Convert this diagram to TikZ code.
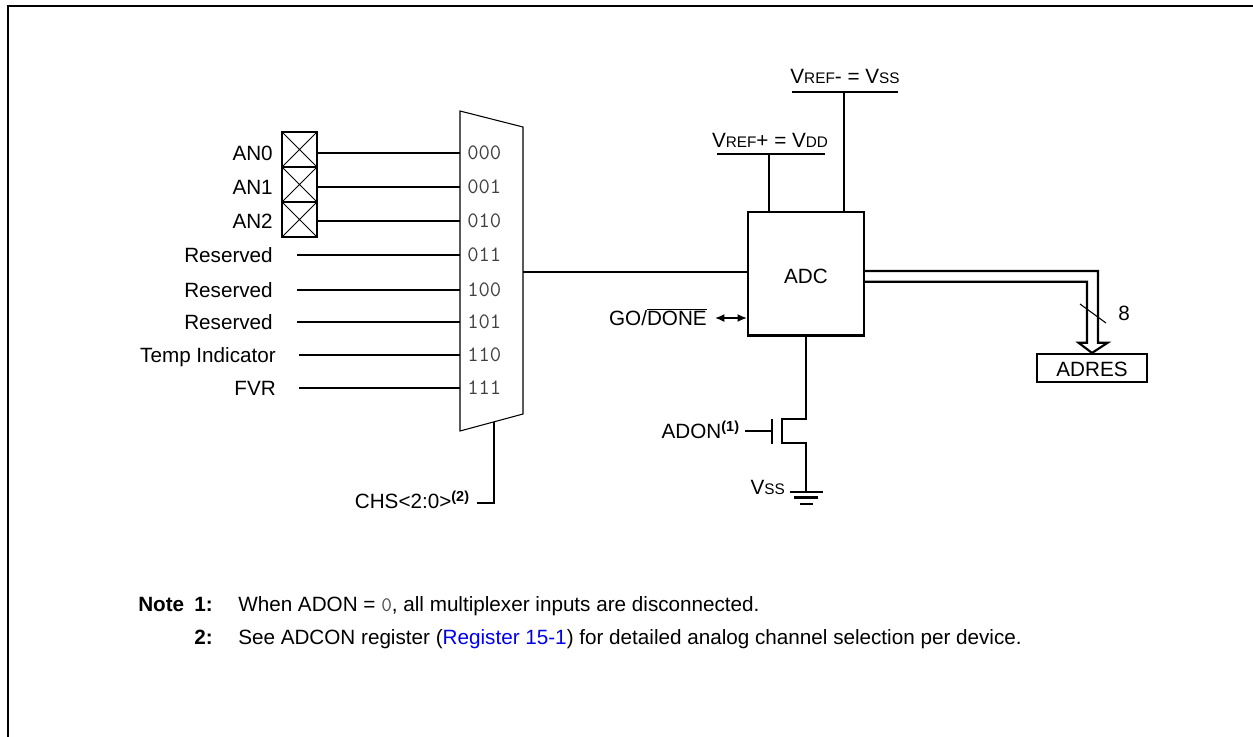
\documentclass[tikz,border=0pt]{standalone}
\usepackage{fontspec}
\setmainfont{Liberation Sans}
\usetikzlibrary{arrows.meta}
\definecolor{linkblue}{RGB}{0,0,235}
\newcommand{\smc}[1]{{\fontsize{11.5}{13}\selectfont #1}}
\begin{document}
\begin{tikzpicture}[x=0.75pt,y=-0.75pt,
  lbl/.style={inner sep=0pt,font=\fontsize{15.5}{18}\selectfont,text height=11.1pt,text depth=0pt},
  code/.style={inner sep=0pt,font=\fontsize{16.5}{18}\selectfont\ttfamily,text=black!75},
  wire/.style={line width=1.6pt},
  thinwire/.style={line width=0.8pt},
  pinbox/.style={draw,line width=1.6pt,minimum width=26.25pt,minimum height=26.25pt,inner sep=0pt,
    path picture={\draw[line width=0.6pt] (path picture bounding box.north west) -- (path picture bounding box.south east)
      (path picture bounding box.south west) -- (path picture bounding box.north east);}},
  block/.style={draw,line width=1.6pt,inner sep=0pt},
  gt/.style={{Latex[length=7pt,width=6pt]}-{Latex[length=7pt,width=6pt]}}
]
\useasboundingbox (0,0) rectangle (1253,736);
% frame
\draw[line width=1.5pt] (8,740) -- (8,5.5) -- (1260,5.5);

% multiplexer
\coordinate (mTL) at (460,111);
\coordinate (mTR) at (523,127);
\coordinate (mBR) at (523,414);
\coordinate (mBL) at (460,431);
\draw[thinwire] (mTL) -- (mTR) -- (mBR) -- (mBL) -- cycle;

\foreach \y/\c [count=\i] in {153/000,187/001,221/010,255/011,290/100,322/101,355/110,388/111}{
  \coordinate (in\i) at (460,\y);
  \node[code,anchor=west] (c\i) at (467,\y) {\c};
}

% pin boxes
\node[pinbox] (p1) at (299.5,149.5) {};
\node[pinbox] (p2) at (299.5,184.5) {};
\node[pinbox] (p3) at (299.5,219.5) {};

% input labels
\node[lbl,anchor=east] (l1) at (273,153) {AN0};
\node[lbl,anchor=east] (l2) at (273,187) {AN1};
\node[lbl,anchor=east] (l3) at (273,221) {AN2};
\node[lbl,anchor=east] (l4) at (273,255) {Reserved};
\node[lbl,anchor=east] (l5) at (273,290) {Reserved};
\node[lbl,anchor=east] (l6) at (273,322) {Reserved};
\node[lbl,anchor=east] (l7) at (276,355) {Temp Indicator};
\node[lbl,anchor=east] (l8) at (276,388) {FVR};

% input wires
\draw[wire] (p1.east |- in1) -- (in1);
\draw[wire] (p2.east |- in2) -- (in2);
\draw[wire] (p3.east |- in3) -- (in3);
\coordinate (s4) at (297,255);
\coordinate (s5) at (297,290);
\coordinate (s6) at (297,322);
\coordinate (s7) at (299,355);
\coordinate (s8) at (299,388);
\draw[wire] (s4) -- (in4);
\draw[wire] (s5) -- (in5);
\draw[wire] (s6) -- (in6);
\draw[wire] (s7) -- (in7);
\draw[wire] (s8) -- (in8);

% channel select
\coordinate (msel) at (494,422);
\node[lbl,anchor=east] (chs) at (470,501) {CHS<2:0>\textsuperscript{\bfseries(2)}};
\draw[wire] (msel) -- (494,503) -- ([xshift=5.5pt]chs.east |- 0,503);

% ADC
\node[block,minimum width=87pt,minimum height=92.6pt] (adc) at (806,273.75) {};
\node[lbl] (adclbl) at (806,276) {ADC};
\coordinate (mout) at (523,272);
\draw[wire] (mout) -- (adc.west |- mout);

% references
\node[lbl] (vrefm) at (845,76) {V\smc{REF}- = V\smc{SS}};
\coordinate (bmL) at (792,92);
\coordinate (bmR) at (898,92);
\coordinate (bmC) at (844,92);
\draw[wire] (bmL) -- (bmR);
\draw[wire] (bmC) -- (adc.north -| bmC);

\node[lbl] (vrefp) at (770,140.5) {V\smc{REF}+ = V\smc{DD}};
\coordinate (bpL) at (717,154);
\coordinate (bpR) at (825,154);
\coordinate (bpC) at (769,154);
\draw[wire] (bpL) -- (bpR);
\draw[wire] (bpC) -- (adc.north -| bpC);

% GO/DONE
\node[lbl,anchor=east] (go) at (707,318) {GO/$\overline{\hbox{DONE}}$};
\draw[gt,line width=1.2pt] ([xshift=6pt]go.east) -- (go.east -| adc.west);

% bus to ADRES
\node[block,minimum width=82.5pt,minimum height=21pt] (adres) at (1092,368) {};
\node[lbl] (adreslbl) at (1092,369) {ADRES};
\draw[wire,line join=miter] (adc.east |- 0,271) -- (1098,271) -- (1098,342.7) -- (1107.7,342.7)
  -- (adres.north) -- (1078.5,342.7) -- (1087,342.7) -- (1087,281.7) -- (adc.east |- 0,281.7);
\coordinate (sl1) at (1080,304);
\coordinate (sl2) at (1106,323);
\draw[thinwire] (sl1) -- (sl2);
\node[lbl] (eight) at (1124,313) {8};

% transistor
\coordinate (d1) at (806,419);
\coordinate (d2) at (782,419);
\coordinate (d3) at (782,443);
\coordinate (d4) at (806,443);
\coordinate (gnd) at (806,492);
\draw[wire] (adc.south) -- (d1) -- (d2) -- (d3) -- (d4) -- (gnd);
\coordinate (g1) at (772,419);
\coordinate (g2) at (772,444);
\draw[wire] (g1) -- (g2);
\node[lbl,anchor=east] (adon) at (740,431) {ADON\textsuperscript{\bfseries(1)}};
\draw[wire] ([xshift=4pt]adon.east) -- (adon.east -| g1);

% ground
\draw[wire] (790,492) -- (823,492);
\draw[wire] (794,497.5) -- (818,497.5);
\draw[wire] (800,504) -- (813,504);
\node[lbl,anchor=east] (vss) at (785,487) {V\smc{SS}};

% notes
\node[lbl,anchor=west,font=\fontsize{15.5}{18}\selectfont\bfseries] (note) at (138,604) {Note};
\node[lbl,anchor=east,font=\fontsize{15.5}{18}\selectfont\bfseries] (n1) at (213,604) {1:};
\node[lbl,anchor=west] (t1) at (238,604) {When ADON = {\ttfamily\color{black!70}0}, all multiplexer inputs are disconnected.};
\node[lbl,anchor=east,font=\fontsize{15.5}{18}\selectfont\bfseries] (n2) at (213,637) {2:};
\node[lbl,anchor=west] (t2) at (238,637) {See ADCON register ({\color{linkblue}Register 15-1}) for detailed analog channel selection per device.};
\end{tikzpicture}
\end{document}
